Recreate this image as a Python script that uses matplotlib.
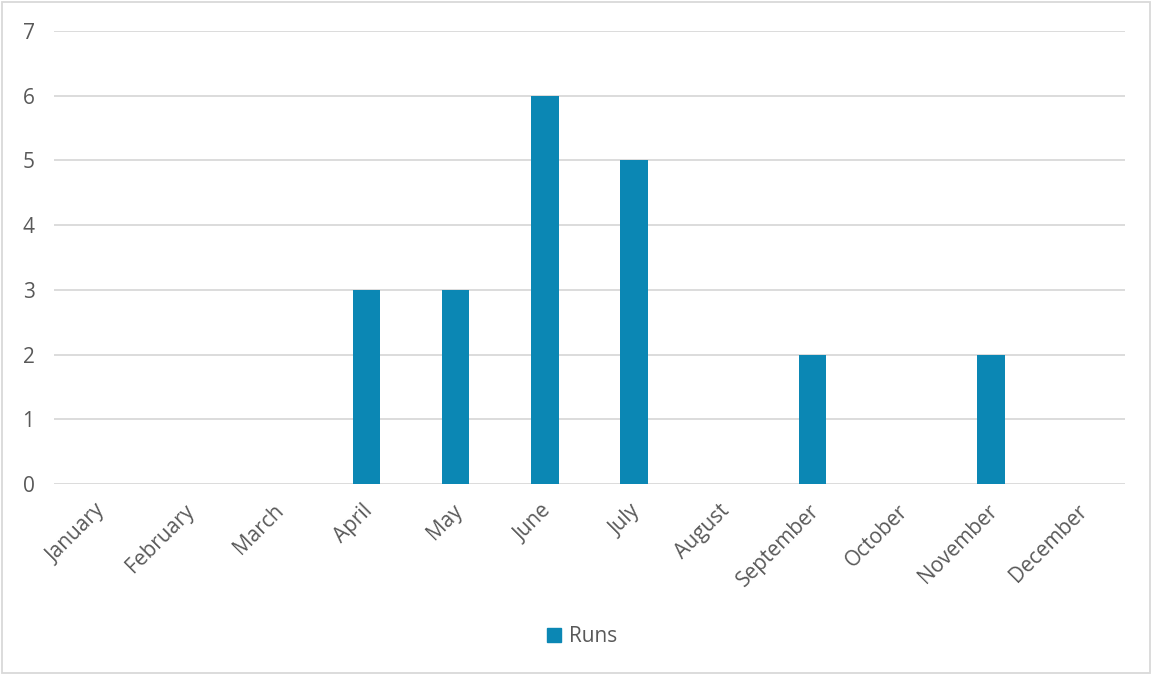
import matplotlib
matplotlib.use("Agg")
import matplotlib.pyplot as plt
from matplotlib.patches import Rectangle, Patch
from matplotlib.transforms import ScaledTranslation

months = ["January", "February", "March", "April", "May", "June", "July",
          "August", "September", "October", "November", "December"]
runs = [0, 0, 0, 3, 3, 6, 5, 0, 2, 0, 2, 0]
yticks = [0, 1, 2, 3, 4, 5, 6, 7]

plt.rcParams['font.family'] = ['Open Sans', 'DejaVu Sans']
text_color = '#595959'
bar_color = '#0B87B4'
grid_color = '#D9D9D9'

fig = plt.figure(figsize=(11.53, 6.75), dpi=100)
ax = fig.add_axes([0.0468, 0.283, 0.9289, 0.671])

x = list(range(len(months)))
ax.bar(x, runs, width=0.31, color=bar_color, zorder=3)
ax.set_xlim(-0.5, len(months) - 0.5)
ax.set_ylim(0, 7)
ax.set_yticks(yticks)
ax.set_yticklabels([str(v) for v in yticks])
ax.yaxis.grid(True, color=grid_color, linewidth=1.3, zorder=0)
ax.set_xticks(x)
ax.set_xticklabels(months, rotation=45, ha='right', va='top', rotation_mode='anchor')
for s in ax.spines.values():
    s.set_visible(False)
ax.tick_params(axis='both', length=0, colors=text_color, labelsize=15)
ax.tick_params(axis='y', pad=14)
ax.tick_params(axis='x', pad=12)
offset = ScaledTranslation(-4 / 100, 0, fig.dpi_scale_trans)
for lbl in ax.get_xticklabels():
    lbl.set_transform(lbl.get_transform() + offset)

fig.legend(handles=[Patch(color=bar_color, label='Runs')], loc='center',
           bbox_to_anchor=(0.505, 0.057), frameon=False, fontsize=15,
           handlelength=0.65, handleheight=0.65, handletextpad=0.4,
           labelcolor=text_color)

fig.patches.append(Rectangle((0.002, 0.003), 0.995, 0.994, transform=fig.transFigure,
                             fill=False, edgecolor='#D9D9D9', linewidth=1.3))

fig.savefig('out.png', dpi=100)
